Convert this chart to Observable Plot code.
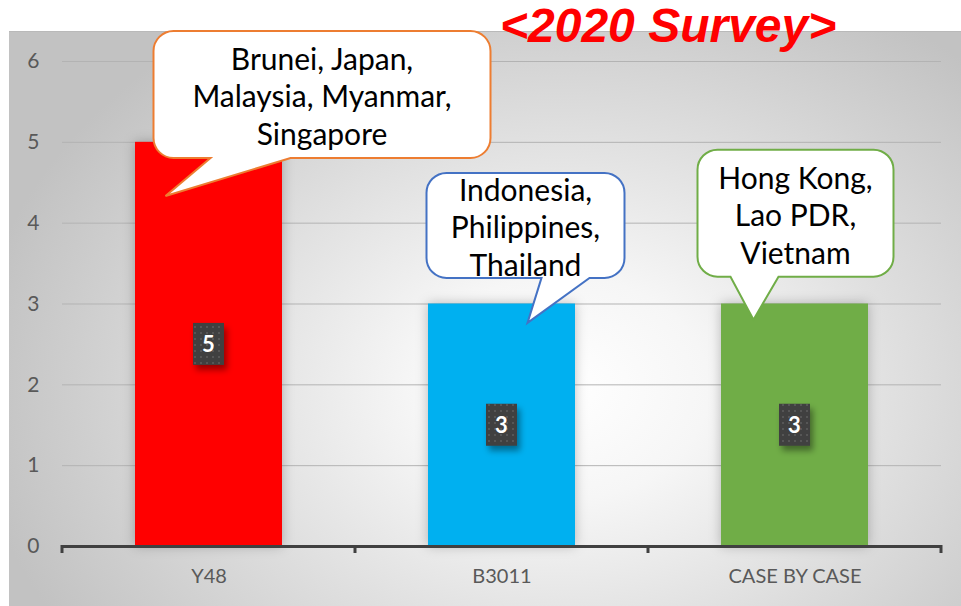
<!DOCTYPE html>
<html><head><meta charset="utf-8">
<script src="https://cdn.jsdelivr.net/npm/d3@7"></script>
<script src="https://cdn.jsdelivr.net/npm/@observablehq/plot@0.6"></script>
<style>
html,body{margin:0;padding:0;background:#fff;}
body{width:961px;height:606px;overflow:hidden;position:relative;font-family:Lato,sans-serif;}
#bg{position:absolute;left:9px;top:31px;width:952px;height:575px;
  background:radial-gradient(ellipse 62% 78% at 58% 62%, #ffffff 0%, #f6f6f6 25%, #dcdcdc 62%, #c2c2c2 100%);
  border-top:1px solid #b9b9b9;box-sizing:border-box;}
#chart{position:absolute;left:0;top:0;}
#title{position:absolute;left:500px;top:2px;margin:0;font:italic bold 48px/48px "Liberation Sans",Arial,sans-serif;color:#ff0000;white-space:nowrap;}
</style>
</head><body>
<div id="bg"></div>
<div id="chart"></div>
<div id="title">&lt;2020 Survey&gt;</div>
<script>
// ---- data ----
const categories = ["Y48", "B3011", "CASE BY CASE"];
const counts = [5, 3, 3];
const barColors = ["#FF0000", "#00B0F0", "#70AD47"];
const yTicks = [0, 1, 2, 3, 4, 5, 6];
const calloutLines = [
  ["Brunei, Japan,", "Malaysia, Myanmar,", "Singapore"],
  ["Indonesia,", "Philippines,", "Thailand"],
  ["Hong Kong,", "Lao PDR,", "Vietnam"]
];
const calloutStrokes = ["#ED7D31", "#4472C4", "#70AD47"];
// callout pointer tip (in data units) and box geometry (pixels relative to the tip)
const calloutTipValues = [4.33, 2.76, 2.8];
const calloutLayout = [
  {tipDx: -43, box: [-12, 325, -165, -38], tail: [45, 125]},
  {tipDx: 26, box: [-101, 97, -150, -45], tail: [14, 62]},
  {tipDx: -41, box: [-56, 140, -170, -43], tail: [-23, 25]}
];

const rows = categories.map((c, i) => ({category: c, value: counts[i], color: barColors[i]}));

function bandInfo(x) {
  const bw = x.bandwidth ? x.bandwidth() : 0;
  const step = x(categories[1]) - x(categories[0]);
  return {bw, step};
}

function boundaryTicks(index, {x, y}) {
  const {bw, step} = bandInfo(x);
  const g = d3.create("svg:g");
  const pad = (step - bw) / 2;
  const xs = categories.map(c => x(c) - pad);
  xs.push(x(categories[categories.length - 1]) + bw + pad);
  const y0 = y(0);
  g.selectAll("line").data(xs).join("line")
    .attr("x1", d => d).attr("x2", d => d)
    .attr("y1", y0 - 1).attr("y2", y0 + 7)
    .attr("stroke", "#404040").attr("stroke-width", 3);
  return g.node();
}

function labelBoxes(index, {x, y}) {
  const {bw} = bandInfo(x);
  const g = d3.create("svg:g");
  const defs = g.append("defs");
  const pat = defs.append("pattern").attr("id", "dots").attr("patternUnits", "userSpaceOnUse")
    .attr("width", 6).attr("height", 6);
  pat.append("rect").attr("width", 6).attr("height", 6).attr("fill", "#3f3f3f");
  pat.append("rect").attr("x", 2).attr("y", 2).attr("width", 2).attr("height", 2).attr("fill", "#565656");
  const f = defs.append("filter").attr("id", "lblShadow").attr("x", "-50%").attr("y", "-50%").attr("width", "200%").attr("height", "200%");
  f.append("feDropShadow").attr("dx", 3).attr("dy", 5).attr("stdDeviation", 3).attr("flood-color", "#000").attr("flood-opacity", 0.4);
  rows.forEach(d => {
    const cx = x(d.category) + bw / 2;
    const cy = y(d.value / 2);
    g.append("rect").attr("x", cx - 15.5).attr("y", cy - 21).attr("width", 31).attr("height", 42)
      .attr("fill", "url(#dots)").attr("filter", "url(#lblShadow)");
    g.append("text").attr("x", cx).attr("y", cy).attr("dy", "0.36em")
      .attr("text-anchor", "middle").attr("fill", "#fff")
      .attr("font-family", "Lato, sans-serif").attr("font-weight", "bold").attr("font-size", 22)
      .text(d.value);
  });
  return g.node();
}

function callouts(index, {x, y}) {
  const {bw} = bandInfo(x);
  const g = d3.create("svg:g");
  const r = 20;
  calloutLayout.forEach((L, i) => {
    const cx = x(categories[i]) + bw / 2;
    const tx = cx + L.tipDx, ty = y(calloutTipValues[i]);
    const left = tx + L.box[0], right = tx + L.box[1], top = ty + L.box[2], bottom = ty + L.box[3];
    const tl = tx + L.tail[0], tr = tx + L.tail[1];
    const p = [
      `M${left + r},${top}`, `H${right - r}`, `A${r},${r} 0 0 1 ${right},${top + r}`,
      `V${bottom - r}`, `A${r},${r} 0 0 1 ${right - r},${bottom}`,
      `H${tr}`, `L${tx},${ty}`, `L${tl},${bottom}`,
      `H${left + r}`, `A${r},${r} 0 0 1 ${left},${bottom - r}`,
      `V${top + r}`, `A${r},${r} 0 0 1 ${left + r},${top}`, "Z"
    ].join("");
    g.append("path").attr("d", p).attr("fill", "#fff").attr("stroke", calloutStrokes[i])
      .attr("stroke-width", 2).attr("stroke-linejoin", "miter");
    const mx = (left + right) / 2, my = (top + bottom) / 2 + 2.5;
    const lh = 37.5;
    const lines = calloutLines[i];
    lines.forEach((t, j) => {
      g.append("text").attr("x", mx).attr("y", my + (j - (lines.length - 1) / 2) * lh)
        .attr("dy", "0.35em").attr("text-anchor", "middle")
        .attr("font-family", "Lato, sans-serif").attr("font-size", 30).attr("fill", "#000")
        .text(t);
    });
  });
  return g.node();
}

const chart = Plot.plot({
  width: 961,
  height: 606,
  marginLeft: 62,
  marginRight: 20,
  marginTop: 61,
  marginBottom: 60,
  style: {background: "transparent", color: "#595959", fontFamily: "Lato, sans-serif", overflow: "visible"},
  x: {domain: categories, paddingInner: 0.5, paddingOuter: 0.25, label: null},
  y: {domain: [0, 6], label: null},
  color: {type: "identity"},
  marks: [
    Plot.gridY(yTicks.slice(1), {stroke: "#b3b3b3", strokeOpacity: 1, strokeWidth: 1}),
    Plot.barY(rows, {x: "category", y: "value", fill: "color"}),
    Plot.ruleY([0], {stroke: "#404040", strokeWidth: 3}),
    Plot.axisY(yTicks, {tickSize: 0, tickPadding: 23, fontSize: 21, tickFormat: d => String(d), label: null}),
    Plot.axisX({tickSize: 0, tickPadding: 22, fontSize: 20, label: null}),
    boundaryTicks,
    labelBoxes,
    callouts
  ]
});
d3.select(chart).selectAll('g[aria-label="bar"]').style("filter", "drop-shadow(0px 0px 6px rgba(0,0,0,0.25))");
document.getElementById("chart").appendChild(chart);
</script>
</body></html>
